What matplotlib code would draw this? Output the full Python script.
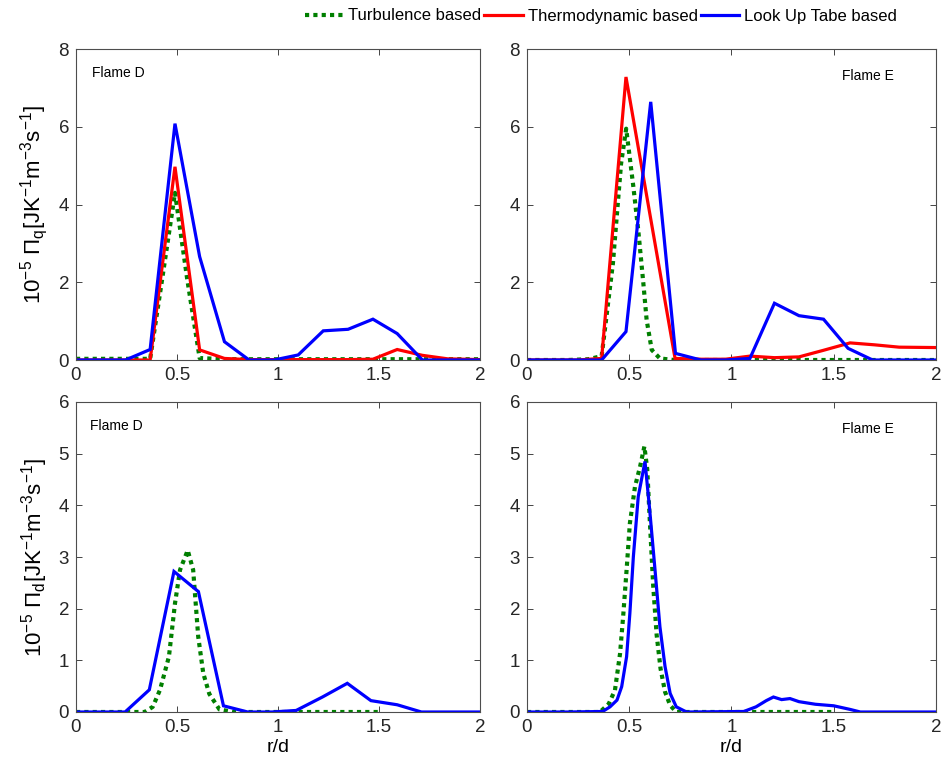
import matplotlib
matplotlib.use("Agg")
import matplotlib.pyplot as plt
from matplotlib.lines import Line2D

plt.rcParams['font.family'] = ['Liberation Sans', 'DejaVu Sans']
plt.rcParams['mathtext.fontset'] = 'custom'
plt.rcParams['mathtext.rm'] = 'Liberation Sans'
plt.rcParams['mathtext.it'] = 'Liberation Sans:italic'

GREEN = '#007f00'
RED = '#ff0000'
BLUE = '#0000ff'

# ---- Pi_q, flame D ----
qD_blue_r = [0, 0.122, 0.245, 0.367, 0.49, 0.612, 0.735, 0.857, 0.98, 1.10, 1.224, 1.347, 1.47, 1.59, 1.715, 1.84, 2.0]
qD_blue = [0, 0, 0, 0.27, 6.08, 2.66, 0.47, 0, 0, 0.13, 0.75, 0.79, 1.05, 0.68, 0, 0, 0]
qD_red_r = [0, 0.122, 0.245, 0.367, 0.49, 0.612, 0.735, 0.857, 0.98, 1.10, 1.224, 1.347, 1.47, 1.59, 1.715, 1.84, 2.0]
qD_red = [0, 0, 0, 0, 4.97, 0.26, 0.04, 0.01, 0.01, 0.01, 0.01, 0.01, 0.02, 0.27, 0.12, 0.03, 0.01]
qD_green_r = [0, 0.122, 0.245, 0.367, 0.43, 0.49, 0.55, 0.612, 0.735, 1.0, 1.5, 2.0]
qD_green = [0.03, 0.03, 0.03, 0.03, 2.2, 4.3, 2.1, 0.05, 0.02, 0.02, 0.02, 0.02]

# ---- Pi_q, flame E ----
qE_blue_r = [0, 0.122, 0.245, 0.365, 0.484, 0.605, 0.726, 0.85, 0.97, 1.09, 1.21, 1.33, 1.45, 1.57, 1.69, 1.82, 2.0]
qE_blue = [0, 0, 0, 0, 0.73, 6.64, 0.17, 0, 0, 0.04, 1.46, 1.14, 1.05, 0.30, 0, 0, 0]
qE_red_r = [0, 0.122, 0.245, 0.365, 0.484, 0.724, 0.85, 0.97, 1.09, 1.21, 1.33, 1.45, 1.58, 1.70, 1.82, 2.0]
qE_red = [0, 0, 0, 0.04, 7.28, 0.04, 0.02, 0.02, 0.10, 0.06, 0.08, 0.25, 0.44, 0.39, 0.33, 0.32]
qE_green_r = [0, 0.2, 0.3, 0.365, 0.42, 0.46, 0.485, 0.52, 0.544, 0.569, 0.585, 0.61, 0.65, 0.72, 1.0, 1.5, 2.0]
qE_green = [0, 0, 0.02, 0.1, 2.48, 5.05, 5.95, 4.46, 3.34, 1.97, 1.03, 0.26, 0.04, 0, 0, 0, 0]

# ---- Pi_d, flame D ----
dD_blue_r = [0, 0.122, 0.243, 0.363, 0.485, 0.606, 0.73, 0.85, 0.97, 1.09, 1.22, 1.343, 1.46, 1.59, 1.71, 1.84, 2.0]
dD_blue = [0, 0, 0, 0.43, 2.72, 2.33, 0.12, 0, 0, 0.03, 0.29, 0.555, 0.22, 0.14, 0, 0, 0]
dD_green_r = [0, 0.2, 0.34, 0.38, 0.416, 0.46, 0.49, 0.515, 0.553, 0.58, 0.605, 0.63, 0.66, 0.71, 0.78, 1.0, 1.5]
dD_green = [0, 0, 0, 0.1, 0.43, 1.07, 2.1, 2.75, 3.13, 2.75, 1.46, 0.75, 0.35, 0.05, 0, 0, 0]

# ---- Pi_d, flame E ----
dE_blue_r = [0, 0.2, 0.37, 0.406, 0.44, 0.463, 0.487, 0.503, 0.52, 0.544, 0.577, 0.6, 0.626, 0.65, 0.675,
             0.70, 0.73, 0.78, 1.06, 1.12, 1.17, 1.205, 1.245, 1.286, 1.33, 1.41, 1.5, 1.58, 1.63, 2.0]
dE_blue = [0, 0, 0.01, 0.1, 0.23, 0.49, 1.07, 1.91, 3.0, 4.17, 4.85, 3.91, 2.75, 1.65, 0.88,
           0.36, 0.1, 0, 0.01, 0.1, 0.22, 0.29, 0.24, 0.26, 0.2, 0.15, 0.12, 0.05, 0, 0]
dE_green_r = [0, 0.2, 0.357, 0.4, 0.43, 0.455, 0.47, 0.487, 0.503, 0.528, 0.553, 0.574, 0.588, 0.6,
              0.617, 0.634, 0.653, 0.675, 0.7, 0.73, 1.0, 1.5]
dE_green = [0, 0, 0, 0.16, 0.42, 1.13, 1.84, 2.75, 3.65, 4.36, 4.75, 5.14, 4.7, 3.74,
            2.45, 1.49, 0.84, 0.39, 0.13, 0, 0, 0]

labels = ['Turbulence based', 'Thermodynamic based', 'Look Up Tabe based']
xticks = [0, 0.5, 1, 1.5, 2]
xticklabels = ['0', '0.5', '1', '1.5', '2']

fig = plt.figure(figsize=(9.45, 7.69), dpi=100)
W, H = 945, 769


def make_ax(x0, y0, x1, y1):
    return fig.add_axes([x0 / W, 1 - y1 / H, (x1 - x0) / W, (y1 - y0) / H])


ax_qD = make_ax(76, 49, 480, 360)
ax_qE = make_ax(527, 49, 936, 360)
ax_dD = make_ax(76, 402, 480, 712)
ax_dE = make_ax(527, 402, 936, 712)

green_kw = dict(color=GREEN, lw=3.0, linestyle=(0, (1, 1)), dash_capstyle='butt')
solid_kw = dict(lw=2.3, solid_joinstyle='miter')

ax_qD.plot(qD_green_r, qD_green, **green_kw)
ax_qD.plot(qD_red_r, qD_red, color=RED, **solid_kw)
ax_qD.plot(qD_blue_r, qD_blue, color=BLUE, **solid_kw)

ax_qE.plot(qE_green_r, qE_green, **green_kw)
ax_qE.plot(qE_red_r, qE_red, color=RED, **solid_kw)
ax_qE.plot(qE_blue_r, qE_blue, color=BLUE, **solid_kw)

ax_dD.plot(dD_green_r, dD_green, **green_kw)
ax_dD.plot(dD_blue_r, dD_blue, color=BLUE, **solid_kw)

ax_dE.plot(dE_green_r, dE_green, **green_kw)
ax_dE.plot(dE_blue_r, dE_blue, color=BLUE, **solid_kw)

for ax in (ax_qD, ax_qE):
    ax.set_ylim(0, 8)
    ax.set_yticks([0, 2, 4, 6, 8])
for ax in (ax_dD, ax_dE):
    ax.set_ylim(0, 6)
    ax.set_yticks([0, 1, 2, 3, 4, 5, 6])

for ax in (ax_qD, ax_qE, ax_dD, ax_dE):
    ax.set_xlim(0, 2)
    ax.set_xticks(xticks)
    ax.set_xticklabels(xticklabels)
    ax.tick_params(direction='in', top=True, right=True, length=4, width=0.6,
                   labelsize=13.5, colors='#262626', pad=5)
    for sp in ax.spines.values():
        sp.set_color('#4d4d4d')
        sp.set_linewidth(0.8)

ax_qD.text(0.04, 0.91, 'Flame D', transform=ax_qD.transAxes, fontsize=10)
ax_qE.text(0.77, 0.90, 'Flame E', transform=ax_qE.transAxes, fontsize=10)
ax_dD.text(0.035, 0.91, 'Flame D', transform=ax_dD.transAxes, fontsize=10)
ax_dE.text(0.77, 0.90, 'Flame E', transform=ax_dE.transAxes, fontsize=10)

ax_qD.set_ylabel(r'$10^{-5}\ \Pi_{\mathrm{q}}[\mathrm{JK}^{-1}\mathrm{m}^{-3}\mathrm{s}^{-1}]$', fontsize=16, labelpad=6)
ax_dD.set_ylabel(r'$10^{-5}\ \Pi_{\mathrm{d}}[\mathrm{JK}^{-1}\mathrm{m}^{-3}\mathrm{s}^{-1}]$', fontsize=16, labelpad=6)
ax_dD.set_xlabel('r/d', fontsize=14, labelpad=2)
ax_dE.set_xlabel('r/d', fontsize=14, labelpad=2)

handles = [Line2D([], [], **green_kw),
           Line2D([], [], color=RED, lw=2.3),
           Line2D([], [], color=BLUE, lw=2.3)]
fig.legend(handles, labels, loc='center', bbox_to_anchor=(601 / W, 1 - 16 / H), ncol=3,
           frameon=False, fontsize=12, handlelength=2.3, handletextpad=0.3, columnspacing=0.2)

fig.savefig('out.png', dpi=100)
